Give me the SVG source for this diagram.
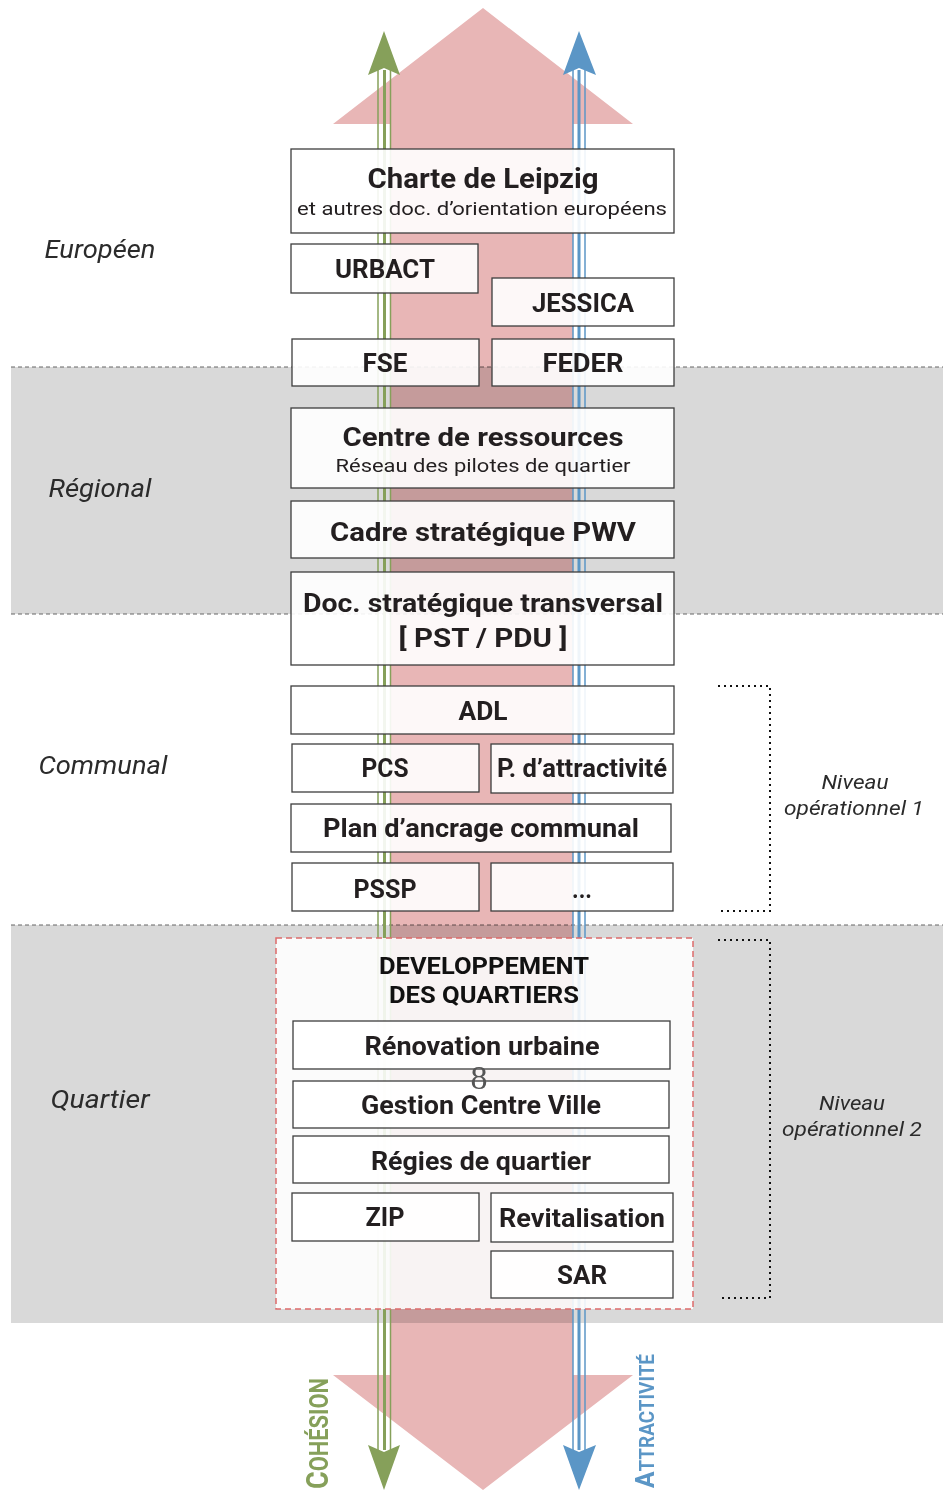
<svg xmlns="http://www.w3.org/2000/svg" width="943" height="1491" viewBox="0 0 943 1491">
<style>
.bx{fill:#fff;fill-opacity:0.9;stroke:#3d3d3d;stroke-width:1.3}
.t{font-family:Roboto,"Liberation Sans",sans-serif;font-weight:bold;font-size:25px;fill:#231f20;text-anchor:middle}
.s{font-family:Roboto,"Liberation Sans",sans-serif;font-size:19px;fill:#231f20;text-anchor:middle}
.lv{font-family:Roboto,"Liberation Sans",sans-serif;font-style:italic;font-size:25px;fill:#2b2b2b;text-anchor:middle}
.nv{font-family:Roboto,"Liberation Sans",sans-serif;font-style:italic;font-size:20px;fill:#2b2b2b;text-anchor:middle}
.pink{fill:#e8b6b6;mix-blend-mode:multiply}
.dl{stroke:#666;stroke-width:1;stroke-dasharray:4 3;fill:none}
.dot{stroke:#111;stroke-width:2;stroke-dasharray:2 4;fill:none}
</style>
<rect width="943" height="1491" fill="#fff"/>
<!-- bands -->
<g id="bands">
<rect x="11" y="367" width="932" height="247" fill="#d9d9d9"/>
<rect x="11" y="925" width="932" height="398" fill="#d9d9d9"/>
<line class="dl" x1="11" y1="367" x2="943" y2="367"/>
<line class="dl" x1="11" y1="614" x2="943" y2="614"/>
<line class="dl" x1="11" y1="925" x2="943" y2="925"/>
</g>
<!-- big pink double arrow -->
<g id="pink-arrow">
<path class="pink" d="M483,8 L633,124 L573,124 L573,1375 L633,1375 L483,1490 L333,1375 L390,1375 L390,124 L333,124 Z"/>
</g>
<!-- connectors: green and blue arrows -->
<g id="connectors">
<g stroke="#86a05a" fill="none">
<line x1="378" y1="70" x2="378" y2="1450" stroke-width="1.5"/>
<line x1="384.5" y1="70" x2="384.5" y2="1450" stroke-width="3"/>
<line x1="390.5" y1="70" x2="390.5" y2="1450" stroke-width="1.5"/>
</g>
<path d="M384,31 L400,75 L384,68 L368,75 Z" fill="#86a05a"/>
<path d="M384,1490 L400,1445 L384,1452 L368,1445 Z" fill="#86a05a"/>
<g stroke="#5b96c6" fill="none">
<line x1="573" y1="70" x2="573" y2="1450" stroke-width="1.5"/>
<line x1="579" y1="70" x2="579" y2="1450" stroke-width="3"/>
<line x1="585" y1="70" x2="585" y2="1450" stroke-width="1.5"/>
</g>
<path d="M579,31 L596,75 L579,68 L563,75 Z" fill="#5b96c6"/>
<path d="M579,1490 L596,1445 L579,1452 L563,1445 Z" fill="#5b96c6"/>
</g>
<!-- level labels -->
<g id="levels">
<text class="lv" x="100" y="258" textLength="111" lengthAdjust="spacingAndGlyphs">Européen</text>
<text class="lv" x="100" y="497" textLength="103" lengthAdjust="spacingAndGlyphs">Régional</text>
<text class="lv" x="103" y="774" textLength="129" lengthAdjust="spacingAndGlyphs">Communal</text>
<text class="lv" x="100" y="1108" textLength="99" lengthAdjust="spacingAndGlyphs">Quartier</text>
</g>
<g id="niveau1">
<path class="dot" d="M718,686 H770 V911 H718"/>
<text class="nv" x="855" y="789" textLength="67" lengthAdjust="spacingAndGlyphs">Niveau</text>
<text class="nv" x="854" y="815" textLength="140" lengthAdjust="spacingAndGlyphs">opérationnel 1</text>
</g>
<g id="niveau2">
<path class="dot" d="M718,940 H770 V1298 H718"/>
<text class="nv" x="852" y="1110" textLength="66" lengthAdjust="spacingAndGlyphs">Niveau</text>
<text class="nv" x="852" y="1136" textLength="140" lengthAdjust="spacingAndGlyphs">opérationnel 2</text>
</g>
<!-- nodes -->
<g id="charte"><rect class="bx" x="291" y="149" width="383" height="84"/>
<text class="t" x="483" y="188" style="font-size:27px" textLength="231" lengthAdjust="spacingAndGlyphs">Charte de Leipzig</text>
<text class="s" x="482" y="215" textLength="370" lengthAdjust="spacingAndGlyphs">et autres doc. d’orientation européens</text></g>
<g id="urbact"><rect class="bx" x="291" y="244" width="187" height="49"/><text class="t" x="385" y="278" textLength="100" lengthAdjust="spacingAndGlyphs">URBACT</text></g>
<g id="jessica"><rect class="bx" x="492" y="278" width="182" height="48"/><text class="t" x="583" y="312" textLength="102" lengthAdjust="spacingAndGlyphs">JESSICA</text></g>
<g id="fse"><rect class="bx" x="292" y="339" width="187" height="47"/><text class="t" x="385" y="372" textLength="45" lengthAdjust="spacingAndGlyphs">FSE</text></g>
<g id="feder"><rect class="bx" x="492" y="339" width="182" height="47"/><text class="t" x="583" y="372" textLength="81" lengthAdjust="spacingAndGlyphs">FEDER</text></g>
<g id="centre"><rect class="bx" x="291" y="408" width="383" height="80"/>
<text class="t" x="483" y="446" style="font-size:26px" textLength="281" lengthAdjust="spacingAndGlyphs">Centre de ressources</text>
<text class="s" x="483" y="472" textLength="295" lengthAdjust="spacingAndGlyphs">Réseau des pilotes de quartier</text></g>
<g id="cadre"><rect class="bx" x="291" y="501" width="383" height="57"/><text class="t" x="483" y="541" textLength="306" lengthAdjust="spacingAndGlyphs">Cadre stratégique PWV</text></g>
<g id="doc"><rect class="bx" x="291" y="572" width="383" height="93"/>
<text class="t" x="483" y="612" textLength="360" lengthAdjust="spacingAndGlyphs">Doc. stratégique transversal</text>
<text class="t" x="483" y="647" textLength="169" lengthAdjust="spacingAndGlyphs">[ PST / PDU ]</text></g>
<g id="adl"><rect class="bx" x="291" y="686" width="383" height="48"/><text class="t" x="483" y="720" textLength="49" lengthAdjust="spacingAndGlyphs">ADL</text></g>
<g id="pcs"><rect class="bx" x="292" y="744" width="187" height="48"/><text class="t" x="385" y="777" textLength="47" lengthAdjust="spacingAndGlyphs">PCS</text></g>
<g id="pattr"><rect class="bx" x="491" y="744" width="182" height="49"/><text class="t" x="582" y="777" textLength="170" lengthAdjust="spacingAndGlyphs">P. d’attractivité</text></g>
<g id="plan"><rect class="bx" x="291" y="804" width="380" height="48"/><text class="t" x="481" y="837" textLength="316" lengthAdjust="spacingAndGlyphs">Plan d’ancrage communal</text></g>
<g id="pssp"><rect class="bx" x="292" y="863" width="187" height="48"/><text class="t" x="385" y="898" textLength="63" lengthAdjust="spacingAndGlyphs">PSSP</text></g>
<g id="etc"><rect class="bx" x="491" y="863" width="182" height="48"/><text class="t" x="582" y="898" textLength="20" lengthAdjust="spacingAndGlyphs">...</text></g>
<g id="quartiers">
<rect x="276" y="938" width="417" height="371" fill="#fff" fill-opacity="0.88" stroke="#dd6b6b" stroke-width="1.5" stroke-dasharray="6 4"/>
<text class="t" x="484" y="974" style="font-size:24px;fill:#111" textLength="210" lengthAdjust="spacingAndGlyphs">DEVELOPPEMENT</text>
<text class="t" x="484" y="1003" style="font-size:24px;fill:#111" textLength="190" lengthAdjust="spacingAndGlyphs">DES QUARTIERS</text>
</g>
<g id="renovation"><rect class="bx" x="293" y="1021" width="377" height="48"/><text class="t" x="482" y="1055" textLength="235" lengthAdjust="spacingAndGlyphs">Rénovation urbaine</text></g>
<g id="gestion"><rect class="bx" x="293" y="1081" width="376" height="47"/><text class="t" x="481" y="1114" textLength="240" lengthAdjust="spacingAndGlyphs">Gestion Centre Ville</text></g>
<text x="479" y="1089" font-family="'Liberation Serif',serif" font-size="34" fill="#555" text-anchor="middle">8</text>
<g id="regies"><rect class="bx" x="293" y="1136" width="376" height="47"/><text class="t" x="481" y="1170" textLength="220" lengthAdjust="spacingAndGlyphs">Régies de quartier</text></g>
<g id="zip"><rect class="bx" x="292" y="1193" width="187" height="48"/><text class="t" x="385" y="1226" textLength="39" lengthAdjust="spacingAndGlyphs">ZIP</text></g>
<g id="revit"><rect class="bx" x="491" y="1193" width="182" height="49"/><text class="t" x="582" y="1227" textLength="166" lengthAdjust="spacingAndGlyphs">Revitalisation</text></g>
<g id="sar"><rect class="bx" x="491" y="1251" width="182" height="47"/><text class="t" x="582" y="1284" textLength="50" lengthAdjust="spacingAndGlyphs">SAR</text></g>
<!-- axis labels -->
<g id="cohesion">
<text transform="translate(328,1489) rotate(-90)" font-family="Roboto,'Liberation Sans',sans-serif" font-weight="bold" fill="#86a05a" textLength="111" lengthAdjust="spacingAndGlyphs"><tspan font-size="32">C</tspan><tspan font-size="26">OHÉSION</tspan></text>
</g>
<g id="attractivite">
<text transform="translate(654,1488) rotate(-90)" font-family="Roboto,'Liberation Sans',sans-serif" font-weight="bold" fill="#5b96c6" textLength="134" lengthAdjust="spacingAndGlyphs"><tspan font-size="26">A</tspan><tspan font-size="20">TTRACTIVITÉ</tspan></text>
</g>
</svg>
